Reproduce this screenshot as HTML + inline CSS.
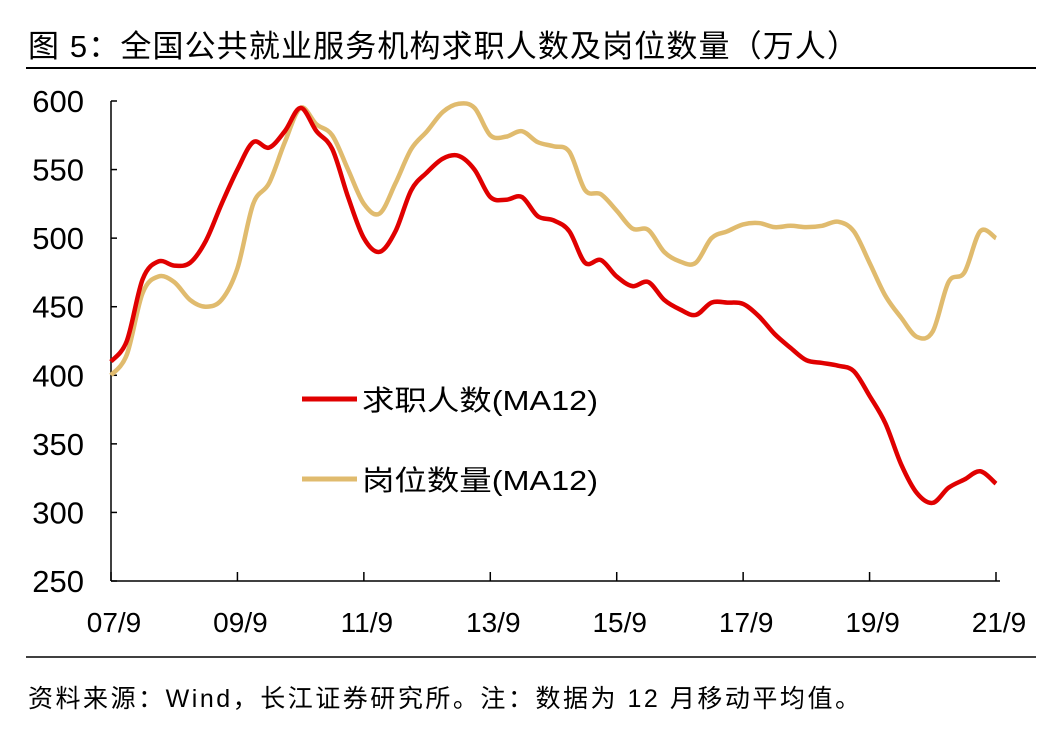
<!DOCTYPE html>
<html><head><meta charset="utf-8"><style>
body{margin:0;background:#fff;width:1063px;height:747px;overflow:hidden;font-family:"Liberation Sans","Noto Sans CJK SC",sans-serif;}
</style></head><body>
<svg width="1063" height="747" font-family="'Liberation Sans','Noto Sans CJK SC',sans-serif">
<text x="28" y="57" font-size="31" fill="#000" textLength="830" lengthAdjust="spacing">图 5：全国公共就业服务机构求职人数及岗位数量（万人）</text>
<line x1="26" y1="68" x2="1036" y2="68" stroke="#000" stroke-width="2"/>
<line x1="26" y1="657" x2="1036" y2="657" stroke="#000" stroke-width="1.5"/>
<text x="28" y="707" font-size="25" fill="#000" textLength="832" lengthAdjust="spacing">资料来源：Wind，长江证券研究所。注：数据为 12 月移动平均值。</text>
<g id="axes"></g>
<g id="series"></g>
<g>
<line x1="302" y1="399" x2="357" y2="399" stroke="#e00000" stroke-width="5"/>
<text x="362" y="410" font-size="28" textLength="236" lengthAdjust="spacingAndGlyphs">求职人数(MA12)</text>
<line x1="302" y1="479" x2="357" y2="479" stroke="#e0bb6e" stroke-width="5"/>
<text x="362" y="490" font-size="28" textLength="236" lengthAdjust="spacingAndGlyphs">岗位数量(MA12)</text>
</g>
</svg>
<script>
const months=[0,3,6,9,12,15,18,21,24,27,30,33,36,39,42,45,48,51,54,57,60,63,66,69,72,75,78,81,84,87,90,93,96,99,102,105,108,111,114,117,120,123,126,129,132,135,138,141,144,147,150,153,156,159,162,165,168];
const seekers=[410,425,470,483,480,482,498,525,550,570,566,578,595,578,565,530,500,490,505,535,548,558,560,550,530,528,530,516,513,505,482,484,472,465,468,455,448,444,453,453,452,443,430,420,411,409,407,403,385,365,335,314,307,318,324,330,321];
const positions=[400,415,460,472,468,455,450,455,478,525,540,570,595,583,575,550,525,518,540,565,578,592,598,595,575,574,578,570,567,563,535,532,520,507,506,490,483,482,500,505,510,511,508,509,508,509,512,505,482,458,442,428,432,468,475,505,500];
const yTicks=[250,300,350,400,450,500,550,600];
const xLabels=["07/9","09/9","11/9","13/9","15/9","17/9","19/9","21/9"];
const X=m=>111+m*(996-111)/168, Y=v=>581-(v-250)*480/350;
const NS="http://www.w3.org/2000/svg";
const ax=document.getElementById('axes');
function mk(t,a,p){const e=document.createElementNS(NS,t);for(const k in a)e.setAttribute(k,a[k]);p.appendChild(e);return e;}
const ya=mk('line',{x1:111,y1:101,x2:111,y2:581,stroke:'#000','stroke-width':1.5},ax);


const xa=mk('line',{x1:111,y1:581,x2:1000,y2:581,stroke:'#000','stroke-width':1.5},ax);


yTicks.forEach(v=>{mk('line',{x1:111,y1:Y(v),x2:117,y2:Y(v),stroke:'#000','stroke-width':1.5},ax);
const t=mk('text',{x:84,y:Y(v)+11,'font-size':31,'text-anchor':'end'},ax);t.textContent=v;

});
xLabels.forEach((l,i)=>{const x=X(i*24);mk('line',{x1:x,y1:581,x2:x,y2:572,stroke:'#000','stroke-width':1.5},ax);
const t=mk('text',{x:x+3,y:632,'font-size':28,'text-anchor':'middle'},ax);t.textContent=l;

});
function path(vals){const p=months.map((m,i)=>[X(m),Y(vals[i])]);let d=`M${p[0][0]},${p[0][1]}`;
for(let i=0;i<p.length-1;i++){const p0=p[i-1]||p[i],p1=p[i],p2=p[i+1],p3=p[i+2]||p2;
d+=` C${p1[0]+(p2[0]-p0[0])/6},${p1[1]+(p2[1]-p0[1])/6} ${p2[0]-(p3[0]-p1[0])/6},${p2[1]-(p3[1]-p1[1])/6} ${p2[0]},${p2[1]}`;}return d;}
const sg=document.getElementById('series');
const l2=mk('path',{d:path(positions),fill:'none',stroke:'#e0bb6e','stroke-width':4.5},sg);


const l1=mk('path',{d:path(seekers),fill:'none',stroke:'#e00000','stroke-width':4.5},sg);


</script>
</body></html>
